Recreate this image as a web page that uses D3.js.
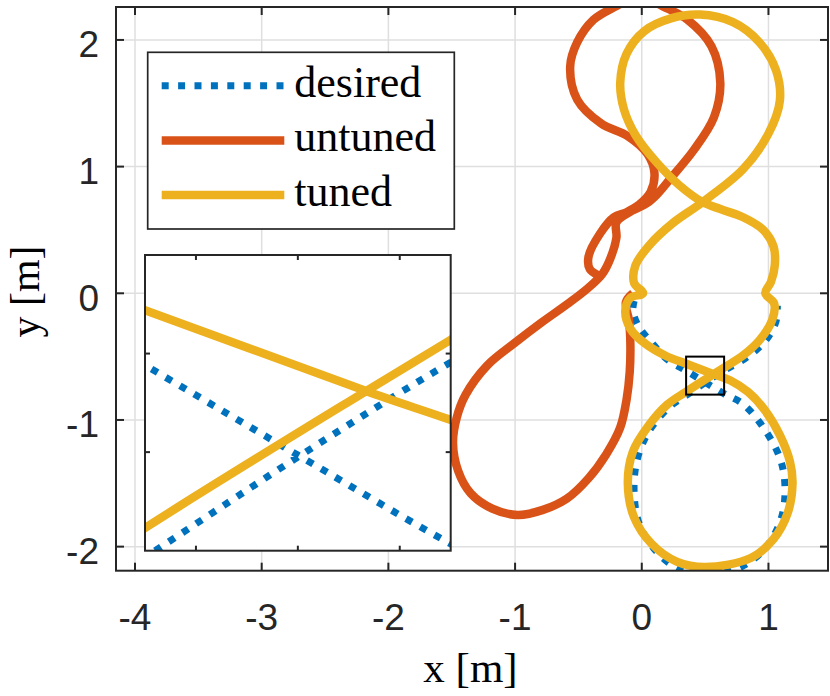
<!DOCTYPE html>
<html>
<head>
<meta charset="utf-8">
<script src="https://cdn.jsdelivr.net/npm/d3@7"></script>
<style>
  html, body { margin: 0; padding: 0; background: #fff; }
  svg { display: block; }
</style>
</head>
<body>
<div id="chart"></div>
<script>
/**
 * Trajectory comparison: desired / untuned / tuned
 * Main x-y view with a zoomed inset around the lower crossing
 */

// ---- data (metres) ----
const desiredPts = [
  [-0.06, -0.06], [-0.07, -0.14], [-0.02, -0.27], [0.07, -0.38], [0.20, -0.521],
  [0.352, -0.613], [0.50, -0.703], [0.648, -0.792], [0.80, -0.875], [0.96, -1.06],
  [1.09, -1.30], [1.13, -1.52], [1.10, -1.78], [0.96, -2.03], [0.74, -2.18],
  [0.50, -2.22], [0.28, -2.17], [0.10, -2.02], [-0.02, -1.82], [-0.06, -1.58],
  [-0.04, -1.33], [0.05, -1.10], [0.22, -0.895], [0.36, -0.80], [0.50, -0.705],
  [0.648, -0.61], [0.83, -0.505], [0.98, -0.37], [1.06, -0.22], [1.07, -0.10]
];

const untunedPts = [
  [-0.07, 0.0], [-0.125, -0.07], [-0.10, -0.22], [-0.09, -0.40], [-0.095, -0.62],
  [-0.12, -0.84], [-0.17, -1.06], [-0.28, -1.27], [-0.42, -1.46], [-0.59, -1.62],
  [-0.78, -1.71], [-0.98, -1.75], [-1.18, -1.70], [-1.35, -1.58], [-1.45, -1.40],
  [-1.49, -1.18], [-1.46, -0.98], [-1.39, -0.80], [-1.22, -0.57], [-1.00, -0.39],
  [-0.79, -0.23], [-0.58, -0.08], [-0.42, 0.045], [-0.31, 0.155], [-0.25, 0.27],
  [-0.20, 0.44], [-0.20, 0.56], [-0.08, 0.65], [0.04, 0.71], [0.12, 0.78],
  [0.23, 0.91], [0.41, 1.13], [0.57, 1.39], [0.62, 1.66], [0.55, 1.95],
  [0.36, 2.16], [0.13, 2.285], [-0.02, 2.38], [-0.17, 2.285], [-0.38, 2.16],
  [-0.51, 1.98], [-0.565, 1.79], [-0.51, 1.53], [-0.32, 1.34], [-0.11, 1.24],
  [0.045, 1.10], [0.10, 0.95], [0.07, 0.80], [-0.02, 0.70], [-0.12, 0.64],
  [-0.22, 0.60], [-0.33, 0.47], [-0.42, 0.29], [-0.41, 0.19], [-0.34, 0.14]
];

// closed loop, starts at the left cusp
const tunedPts = [
  [0.01, 0.0], [-0.09, -0.035], [-0.13, -0.14], [-0.09, -0.28], [0.03, -0.40],
  [0.20, -0.499], [0.35, -0.556], [0.567, -0.638], [0.70, -0.689], [0.84, -0.78],
  [0.97, -0.92], [1.09, -1.12], [1.17, -1.33], [1.19, -1.50], [1.15, -1.74],
  [1.04, -1.94], [0.86, -2.09], [0.50, -2.16], [0.28, -2.12], [0.08, -1.98],
  [-0.06, -1.77], [-0.11, -1.50], [-0.07, -1.25], [0.05, -1.05], [0.20, -0.88],
  [0.35, -0.777], [0.567, -0.638], [0.65, -0.586], [0.80, -0.49], [0.93, -0.37],
  [1.03, -0.21], [1.045, -0.08], [0.975, 0.0], [1.02, 0.09], [1.05, 0.22],
  [1.04, 0.37], [0.96, 0.50], [0.80, 0.60], [0.62, 0.665], [0.48, 0.72],
  [0.30, 0.85], [0.12, 1.03], [-0.05, 1.25], [-0.14, 1.45], [-0.17, 1.66],
  [-0.12, 1.89], [0.02, 2.07], [0.23, 2.17], [0.46, 2.20], [0.72, 2.14],
  [0.93, 1.98], [1.06, 1.76], [1.09, 1.52], [1.00, 1.26], [0.80, 0.98],
  [0.48, 0.72], [0.24, 0.55], [0.06, 0.38], [-0.05, 0.22], [-0.06, 0.08]
];

const xTicks = [-4, -3, -2, -1, 0, 1];
const yTicks = [-2, -1, 0, 1, 2];
const xDomain = [-4.15, 1.47];
const yDomain = [-2.19, 2.26];

// zoom window (also the inset limits)
const zoomX = [0.35, 0.65];
const zoomY = [-0.8, -0.5];
const insetXTicks = [0.4, 0.5, 0.6];
const insetYTicks = [-0.7, -0.6];

const legendLabels = ['desired', 'untuned', 'tuned'];

// ---- style ----
const COLORS = { desired: '#0072BD', untuned: '#D95319', tuned: '#EDB120' };
const AXIS_COLOR = '#262626';
const GRID_COLOR = '#dfdfdf';
const SANS = '"Liberation Sans", Arial, Helvetica, sans-serif';
const SERIF = '"Liberation Serif", "Times New Roman", serif';

const width = 830;
const height = 696;
const plot = { left: 116, right: 828, top: 7, bottom: 570.7 };
const inset = { left: 145, right: 450.7, top: 255, bottom: 550.7 };

const svg = d3.select('#chart')
  .append('svg')
  .attr('width', width)
  .attr('height', height);

const defs = svg.append('defs');
defs.append('clipPath').attr('id', 'clip-main')
  .append('rect')
  .attr('x', plot.left).attr('y', plot.top)
  .attr('width', plot.right - plot.left)
  .attr('height', plot.bottom - plot.top);
defs.append('clipPath').attr('id', 'clip-inset')
  .append('rect')
  .attr('x', inset.left).attr('y', inset.top)
  .attr('width', inset.right - inset.left)
  .attr('height', inset.bottom - inset.top);

const x = d3.scaleLinear().domain(xDomain).range([plot.left, plot.right]);
const y = d3.scaleLinear().domain(yDomain).range([plot.bottom, plot.top]);

// Grid
const gridG = svg.append('g').attr('class', 'grid');
gridG.selectAll('line.gx')
  .data(xTicks)
  .enter().append('line')
  .attr('x1', d => x(d)).attr('x2', d => x(d))
  .attr('y1', plot.top).attr('y2', plot.bottom)
  .attr('stroke', GRID_COLOR)
  .attr('stroke-width', 1.5);
gridG.selectAll('line.gy')
  .data(yTicks)
  .enter().append('line')
  .attr('y1', d => y(d)).attr('y2', d => y(d))
  .attr('x1', plot.left).attr('x2', plot.right)
  .attr('stroke', GRID_COLOR)
  .attr('stroke-width', 1.5);

// Draws the three trajectories with a given pair of scales
function drawTrajectories(g, sx, sy) {
  const open = d3.line()
    .x(d => sx(d[0]))
    .y(d => sy(d[1]))
    .curve(d3.curveCatmullRom.alpha(0.5));
  const closed = d3.line()
    .x(d => sx(d[0]))
    .y(d => sy(d[1]))
    .curve(d3.curveCatmullRomClosed.alpha(0.5));

  g.append('path')
    .attr('d', open(desiredPts))
    .attr('fill', 'none')
    .attr('stroke', COLORS.desired)
    .attr('stroke-width', 7)
    .attr('stroke-dasharray', '7 9.4');

  g.append('path')
    .attr('d', open(untunedPts))
    .attr('fill', 'none')
    .attr('stroke', COLORS.untuned)
    .attr('stroke-width', 8.5)
    .attr('stroke-linejoin', 'round');

  g.append('path')
    .attr('d', closed(tunedPts))
    .attr('fill', 'none')
    .attr('stroke', COLORS.tuned)
    .attr('stroke-width', 8.5)
    .attr('stroke-linejoin', 'round');
}

const mainLines = svg.append('g').attr('clip-path', 'url(#clip-main)');
drawTrajectories(mainLines, x, y);

// Zoom window marker
svg.append('rect')
  .attr('x', x(zoomX[0]))
  .attr('y', y(zoomY[1]))
  .attr('width', x(zoomX[1]) - x(zoomX[0]))
  .attr('height', y(zoomY[0]) - y(zoomY[1]))
  .attr('fill', 'none')
  .attr('stroke', '#000')
  .attr('stroke-width', 2);

// Box + ticks (inward, all four sides)
function drawBox(g, box, sx, sy, xt, yt, tickLen, strokeW) {
  const t = g.append('g');
  t.selectAll('line.tb')
    .data(xt)
    .enter().append('line')
    .attr('x1', d => sx(d)).attr('x2', d => sx(d))
    .attr('y1', box.bottom).attr('y2', box.bottom - tickLen)
    .attr('stroke', AXIS_COLOR).attr('stroke-width', strokeW);
  t.selectAll('line.tt')
    .data(xt)
    .enter().append('line')
    .attr('x1', d => sx(d)).attr('x2', d => sx(d))
    .attr('y1', box.top).attr('y2', box.top + tickLen)
    .attr('stroke', AXIS_COLOR).attr('stroke-width', strokeW);
  t.selectAll('line.tl')
    .data(yt)
    .enter().append('line')
    .attr('y1', d => sy(d)).attr('y2', d => sy(d))
    .attr('x1', box.left).attr('x2', box.left + tickLen)
    .attr('stroke', AXIS_COLOR).attr('stroke-width', strokeW);
  t.selectAll('line.tr')
    .data(yt)
    .enter().append('line')
    .attr('y1', d => sy(d)).attr('y2', d => sy(d))
    .attr('x1', box.right).attr('x2', box.right - tickLen)
    .attr('stroke', AXIS_COLOR).attr('stroke-width', strokeW);
  g.append('rect')
    .attr('x', box.left).attr('y', box.top)
    .attr('width', box.right - box.left)
    .attr('height', box.bottom - box.top)
    .attr('fill', 'none')
    .attr('stroke', AXIS_COLOR)
    .attr('stroke-width', strokeW);
}

drawBox(svg.append('g'), plot, x, y, xTicks, yTicks, 8, 2);

// Tick labels
svg.append('g').selectAll('text')
  .data(xTicks)
  .enter().append('text')
  .attr('x', d => x(d))
  .attr('y', 630)
  .attr('text-anchor', 'middle')
  .attr('font-family', SANS)
  .attr('font-size', 37)
  .attr('fill', AXIS_COLOR)
  .text(d => d);

svg.append('g').selectAll('text')
  .data(yTicks)
  .enter().append('text')
  .attr('x', 99)
  .attr('y', d => y(d) + 17.5)
  .attr('text-anchor', 'end')
  .attr('font-family', SANS)
  .attr('font-size', 37)
  .attr('fill', AXIS_COLOR)
  .text(d => d);

// Axis labels
svg.append('text')
  .attr('x', 470.5)
  .attr('y', 681.7)
  .attr('text-anchor', 'middle')
  .attr('font-family', SERIF)
  .attr('font-size', 43)
  .attr('fill', '#000')
  .text('x [m]');

svg.append('text')
  .attr('transform', 'translate(39,291.5) rotate(-90)')
  .attr('text-anchor', 'middle')
  .attr('font-family', SERIF)
  .attr('font-size', 42)
  .attr('fill', '#000')
  .text('y [m]');

// Legend
const legend = { x: 147.7, y: 52.3, w: 306.6, h: 176.7, rowY: 85.7, rowGap: 54.7 };
const legendG = svg.append('g').attr('class', 'legend');
legendG.append('rect')
  .attr('x', legend.x).attr('y', legend.y)
  .attr('width', legend.w).attr('height', legend.h)
  .attr('fill', '#fff')
  .attr('stroke', AXIS_COLOR)
  .attr('stroke-width', 1.7);

const rows = legendG.selectAll('g.row')
  .data(legendLabels)
  .enter().append('g')
  .attr('transform', (d, i) => `translate(0,${legend.rowY + i * legend.rowGap})`);

rows.append('line')
  .attr('x1', 161.7).attr('x2', 284.3)
  .attr('y1', 0).attr('y2', 0)
  .attr('stroke', d => COLORS[d])
  .attr('stroke-width', d => d === 'desired' ? 7 : 8.5)
  .attr('stroke-dasharray', d => d === 'desired' ? '7 9.4' : null);

rows.append('text')
  .attr('x', 294.3)
  .attr('y', 11)
  .attr('font-family', SERIF)
  .attr('font-size', 44)
  .attr('fill', '#000')
  .text(d => d);

// Inset: zoom of the crossing
const xi = d3.scaleLinear().domain(zoomX).range([inset.left, inset.right]);
const yi = d3.scaleLinear().domain(zoomY).range([inset.bottom, inset.top]);

const insetG = svg.append('g').attr('class', 'inset');
insetG.append('rect')
  .attr('x', inset.left).attr('y', inset.top)
  .attr('width', inset.right - inset.left)
  .attr('height', inset.bottom - inset.top)
  .attr('fill', '#fff');

const insetLines = insetG.append('g').attr('clip-path', 'url(#clip-inset)');
drawTrajectories(insetLines, xi, yi);

drawBox(insetG.append('g'), inset, xi, yi, insetXTicks, insetYTicks, 5, 2);
</script>
</body>
</html>
